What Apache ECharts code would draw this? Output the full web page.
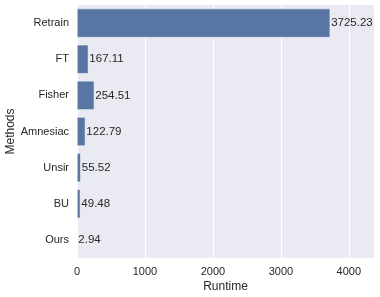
<!DOCTYPE html>
<html><head><meta charset="utf-8">
<script src="https://cdn.jsdelivr.net/npm/echarts@6/dist/echarts.min.js"></script>
<style>html,body{margin:0;padding:0;background:#fff}#c{width:380px;height:297px}</style>
</head><body><div id="c"></div>
<script>
const methods = ['Retrain','FT','Fisher','Amnesiac','Unsir','BU','Ours'];
const runtimes = [3725.23,167.11,254.51,122.79,55.52,49.48,2.94];
const xTicks = [0,1000,2000,3000,4000];
const font = 'Liberation Sans, Arial, sans-serif';
const chart = echarts.init(document.getElementById('c'), null, {renderer:'canvas'});
chart.setOption({
  animation:false,
  grid:{left:77,right:6,top:5,bottom:39,show:true,backgroundColor:'#EAEAF2',borderWidth:0,
    containLabel:false,outerBoundsMode:'none'},
  xAxis:{type:'value',min:0,max:4370,interval:1000,
    name:'Runtime',nameLocation:'middle',nameGap:23,nameMoveOverlap:false,
    nameTextStyle:{fontFamily:font,fontSize:12,color:'#262626'},
    axisLine:{show:false},axisTick:{show:false},
    axisLabel:{fontFamily:font,fontSize:11,color:'#262626',margin:8,
      formatter:v=>xTicks.includes(v)?String(v):''},
    splitLine:{show:true,lineStyle:{color:'#ffffff',width:1}}},
  yAxis:{type:'category',data:methods,inverse:true,
    name:'Methods',nameLocation:'middle',nameGap:60,nameRotate:90,nameMoveOverlap:false,
    nameTextStyle:{fontFamily:font,fontSize:12,color:'#262626'},
    axisLine:{show:false},axisTick:{show:false},
    axisLabel:{fontFamily:font,fontSize:11,color:'#262626',margin:8},
    splitLine:{show:false}},
  series:[{type:'bar',data:runtimes,barWidth:'80%',
    itemStyle:{color:'#5975a4',borderColor:'#ffffff',borderWidth:0.5},
    label:{show:true,position:'right',distance:1,fontFamily:font,fontSize:11.5,color:'#262626',
      formatter:p=>p.value.toFixed(2)}}]
});
</script></body></html>
